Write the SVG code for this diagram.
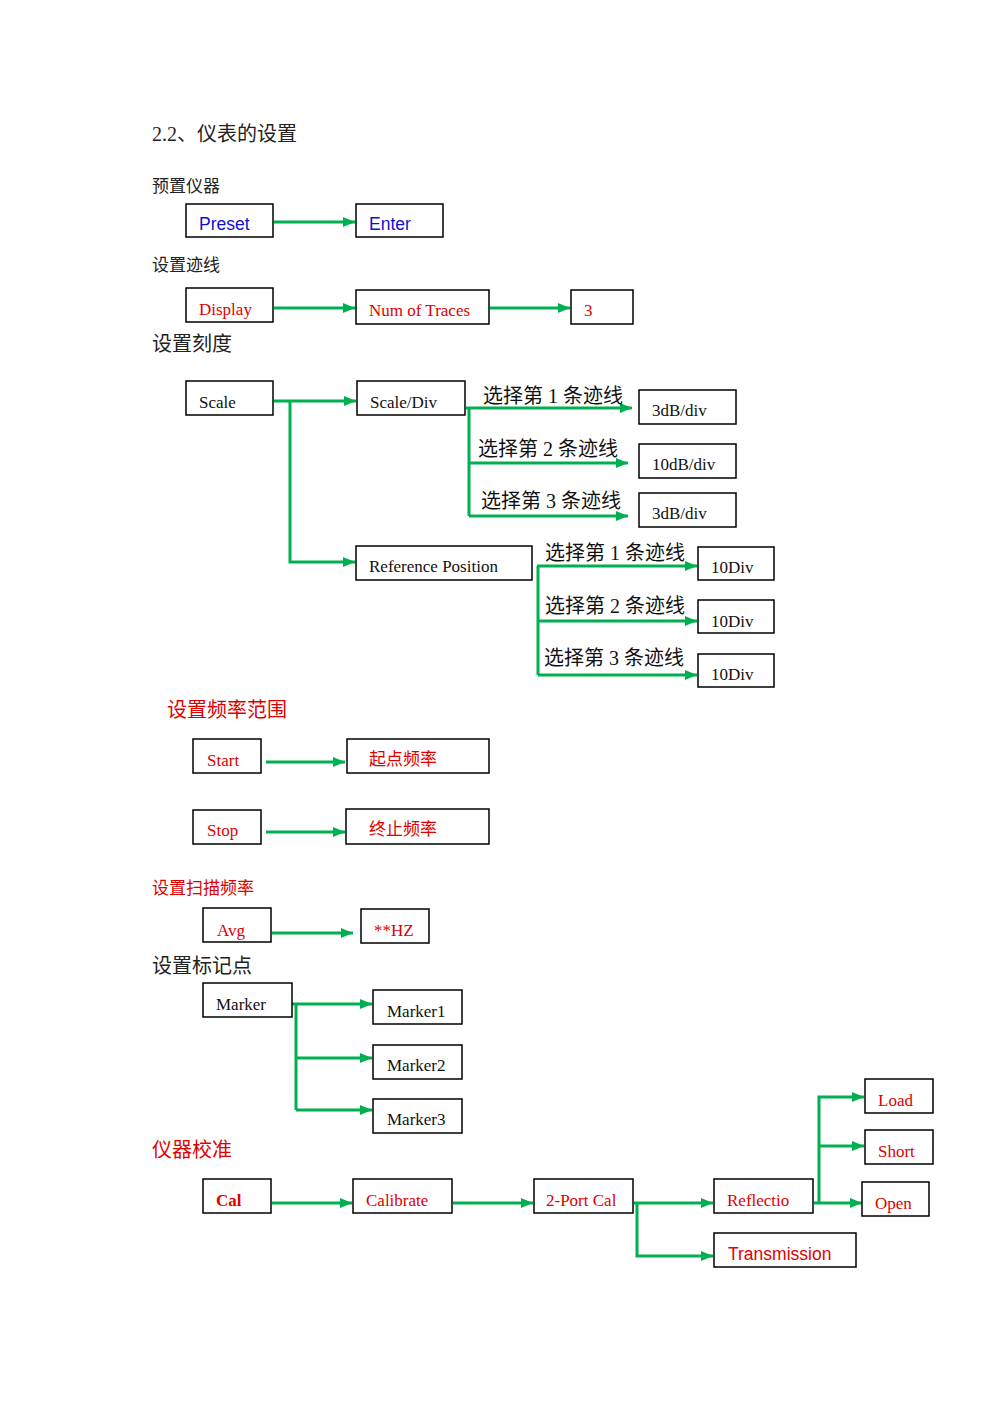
<svg xmlns="http://www.w3.org/2000/svg" width="1000" height="1414" viewBox="0 0 1000 1414">
<style>
.box{fill:#fff;stroke:#000;stroke-width:1.5}
.ln{fill:none;stroke:#00B050;stroke-width:3}
.ar{marker-end:url(#ah)}
.h{font-family:"Liberation Serif","Noto Sans CJK SC",serif;fill:#222}
.hr{font-family:"Liberation Serif","Noto Sans CJK SC",serif;fill:#E00000}
.s{font-family:"Liberation Serif","Noto Sans CJK SC",serif;font-size:17px;fill:#111}
.r{font-family:"Liberation Serif","Noto Sans CJK SC",serif;font-size:17px;fill:#E00000}
.rs{font-family:"Liberation Sans",sans-serif;font-size:17.5px;fill:#E00000}
.b{font-family:"Liberation Sans",sans-serif;font-size:17.5px;fill:#1010D0}
.c{font-family:"Liberation Serif","Noto Sans CJK SC",serif;font-size:20px;fill:#111}
</style>
<defs>
<marker id="ah" markerUnits="userSpaceOnUse" markerWidth="12" markerHeight="10" refX="12" refY="5" orient="auto">
<path d="M0,0 L12,5 L0,10 z" fill="#00B050"/>
</marker>
</defs>
<rect width="1000" height="1414" fill="#fff"/>
<g id="headings">
<text class="h" x="152" y="141" font-size="20">2.2、仪表的设置</text>
<text class="h" x="152" y="192" font-size="17">预置仪器</text>
<text class="h" x="152" y="271" font-size="17">设置迹线</text>
<text class="h" x="152" y="351" font-size="20">设置刻度</text>
<text class="hr" x="167" y="717" font-size="20">设置频率范围</text>
<text class="hr" x="152" y="894" font-size="17">设置扫描频率</text>
<text class="h" x="152" y="973" font-size="20">设置标记点</text>
<text class="hr" x="152" y="1157" font-size="20">仪器校准</text>
</g>
<g id="connectors">
<line class="ln ar" x1="274" y1="222" x2="355" y2="222"/>
<line class="ln ar" x1="274" y1="308" x2="355" y2="308"/>
<line class="ln ar" x1="490" y1="308" x2="570" y2="308"/>
<line class="ln ar" x1="274" y1="401" x2="356" y2="401"/>
<polyline class="ln ar" points="290,401 290,562 355,562"/>
<polyline class="ln ar" points="466,408 632,408"/>
<polyline class="ln" points="469,408 469,516"/>
<line class="ln ar" x1="469" y1="463" x2="628" y2="463"/>
<line class="ln ar" x1="469" y1="516" x2="628" y2="516"/>
<polyline class="ln" points="538,566 538,675"/>
<line class="ln ar" x1="537" y1="566" x2="697" y2="566"/>
<line class="ln ar" x1="538" y1="621" x2="697" y2="621"/>
<line class="ln ar" x1="538" y1="675" x2="697" y2="675"/>
<line class="ln ar" x1="266" y1="762" x2="345" y2="762"/>
<line class="ln ar" x1="266" y1="832" x2="345" y2="832"/>
<line class="ln ar" x1="272" y1="933" x2="353" y2="933"/>
<line class="ln ar" x1="292" y1="1004" x2="372" y2="1004"/>
<polyline class="ln" points="296,1004 296,1110"/>
<line class="ln ar" x1="296" y1="1058" x2="372" y2="1058"/>
<line class="ln ar" x1="296" y1="1110" x2="372" y2="1110"/>
<line class="ln ar" x1="272" y1="1203" x2="352" y2="1203"/>
<line class="ln ar" x1="453" y1="1203" x2="533" y2="1203"/>
<line class="ln ar" x1="634" y1="1203" x2="713" y2="1203"/>
<polyline class="ln ar" points="637,1203 637,1256 713,1256"/>
<line class="ln ar" x1="814" y1="1203" x2="862" y2="1203"/>
<polyline class="ln ar" points="819,1203 819,1097 864,1097"/>
<line class="ln ar" x1="819" y1="1146" x2="864" y2="1146"/>
</g>
<g id="preset"><rect class="box" x="186" y="204" width="87" height="33"/><text class="b" x="199" y="230">Preset</text></g>
<g id="enter"><rect class="box" x="356" y="204" width="87" height="33"/><text class="b" x="369" y="230">Enter</text></g>
<g id="display"><rect class="box" x="186" y="288" width="87" height="34"/><text class="r" x="199" y="315">Display</text></g>
<g id="numtraces"><rect class="box" x="356" y="290" width="133" height="34"/><text class="r" x="369" y="316">Num of Traces</text></g>
<g id="three"><rect class="box" x="571" y="290" width="62" height="34"/><text class="r" x="584" y="316">3</text></g>
<g id="scale"><rect class="box" x="186" y="381" width="87" height="34"/><text class="s" x="199" y="408">Scale</text></g>
<g id="scalediv"><rect class="box" x="357" y="381" width="108" height="34"/><text class="s" x="370" y="408">Scale/Div</text></g>
<g id="lbl-sd"><text class="c" x="483" y="403">选择第 1 条迹线</text><text class="c" x="478" y="456">选择第 2 条迹线</text><text class="c" x="481" y="508">选择第 3 条迹线</text></g>
<g id="sd1"><rect class="box" x="639" y="390" width="97" height="34"/><text class="s" x="652" y="416">3dB/div</text></g>
<g id="sd2"><rect class="box" x="639" y="444" width="97" height="34"/><text class="s" x="652" y="470">10dB/div</text></g>
<g id="sd3"><rect class="box" x="639" y="493" width="97" height="34"/><text class="s" x="652" y="519">3dB/div</text></g>
<g id="refpos"><rect class="box" x="356" y="546" width="176" height="34"/><text class="s" x="369" y="572">Reference Position</text></g>
<g id="lbl-rp"><text class="c" x="545" y="560">选择第 1 条迹线</text><text class="c" x="545" y="613">选择第 2 条迹线</text><text class="c" x="544" y="665">选择第 3 条迹线</text></g>
<g id="rp1"><rect class="box" x="698" y="547" width="76" height="33"/><text class="s" x="711" y="573">10Div</text></g>
<g id="rp2"><rect class="box" x="698" y="600" width="76" height="33"/><text class="s" x="711" y="627">10Div</text></g>
<g id="rp3"><rect class="box" x="698" y="654" width="76" height="33"/><text class="s" x="711" y="680">10Div</text></g>
<g id="start"><rect class="box" x="193" y="739" width="68" height="34"/><text class="r" x="207" y="766">Start</text></g>
<g id="startfreq"><rect class="box" x="347" y="739" width="142" height="34"/><text class="r" x="369" y="765">起点频率</text></g>
<g id="stop"><rect class="box" x="193" y="810" width="68" height="34"/><text class="r" x="207" y="836">Stop</text></g>
<g id="stopfreq"><rect class="box" x="346" y="809" width="143" height="35"/><text class="r" x="369" y="835">终止频率</text></g>
<g id="avg"><rect class="box" x="203" y="908" width="68" height="34"/><text class="r" x="217" y="936">Avg</text></g>
<g id="hz"><rect class="box" x="361" y="909" width="68" height="34"/><text class="r" x="374" y="936">**HZ</text></g>
<g id="marker"><rect class="box" x="203" y="983" width="89" height="34"/><text class="s" x="216" y="1010">Marker</text></g>
<g id="marker1"><rect class="box" x="373" y="990" width="89" height="34"/><text class="s" x="387" y="1017">Marker1</text></g>
<g id="marker2"><rect class="box" x="373" y="1045" width="89" height="34"/><text class="s" x="387" y="1071">Marker2</text></g>
<g id="marker3"><rect class="box" x="373" y="1099" width="89" height="34"/><text class="s" x="387" y="1125">Marker3</text></g>
<g id="cal"><rect class="box" x="203" y="1179" width="68" height="34"/><text class="r" x="216" y="1206" font-weight="bold">Cal</text></g>
<g id="calibrate"><rect class="box" x="353" y="1179" width="99" height="34"/><text class="r" x="366" y="1206">Calibrate</text></g>
<g id="twoport"><rect class="box" x="534" y="1179" width="99" height="34"/><text class="r" x="546" y="1206">2-Port Cal</text></g>
<g id="reflectio"><rect class="box" x="714" y="1179" width="99" height="34"/><text class="r" x="727" y="1206">Reflectio</text></g>
<g id="transmission"><rect class="box" x="714" y="1233" width="142" height="34"/><text class="rs" x="728" y="1260">Transmission</text></g>
<g id="load"><rect class="box" x="865" y="1079" width="68" height="34"/><text class="r" x="878" y="1106">Load</text></g>
<g id="short"><rect class="box" x="865" y="1130" width="68" height="34"/><text class="r" x="878" y="1157">Short</text></g>
<g id="open"><rect class="box" x="862" y="1182" width="67" height="34"/><text class="r" x="875" y="1209">Open</text></g>
</svg>
